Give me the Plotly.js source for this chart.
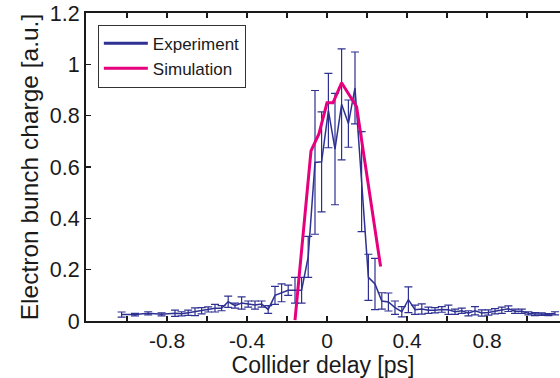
<!DOCTYPE html>
<html>
<head>
<meta charset="utf-8">
<script src="https://cdn.plot.ly/plotly-3.0.1.min.js"></script>
<style>
html,body{margin:0;padding:0;background:#fff;overflow:hidden;}
#chart{width:560px;height:378px;}
</style>
</head>
<body>
<div id="chart"></div>
<script>
// Experiment: collider delay [ps], bunch charge [a.u.], error
const expDelay = [-1.027,-0.96,-0.894,-0.827,-0.76,-0.727,-0.694,-0.66,-0.627,-0.594,-0.56,-0.527,-0.494,-0.46,-0.427,-0.394,-0.36,-0.327,-0.294,-0.26,-0.227,-0.194,-0.16,-0.127,-0.094,-0.06,-0.027,0.007,0.04,0.073,0.107,0.14,0.173,0.207,0.24,0.274,0.307,0.34,0.374,0.407,0.44,0.474,0.507,0.54,0.574,0.607,0.64,0.674,0.707,0.74,0.774,0.807,0.84,0.874,0.907,0.94,0.974,1.007,1.04,1.074,1.107,1.14];
const expCharge = [0.025,0.025,0.03,0.026,0.03,0.028,0.032,0.036,0.04,0.045,0.05,0.05,0.075,0.06,0.07,0.066,0.062,0.066,0.045,0.1,0.11,0.12,0.12,0.12,0.25,0.618,0.62,0.82,0.67,0.844,0.769,0.908,0.543,0.17,0.144,0.078,0.074,0.052,0.036,0.083,0.044,0.047,0.042,0.042,0.045,0.044,0.036,0.04,0.03,0.04,0.031,0.033,0.038,0.042,0.048,0.038,0.038,0.03,0.027,0.027,0.025,0.03];
const expError = [0.01,0.005,0.006,0.006,0.012,0.008,0.01,0.015,0.012,0.01,0.015,0.01,0.022,0.01,0.024,0.012,0.016,0.012,0.015,0.035,0.035,0.02,0.05,0.05,0.08,0.28,0.195,0.145,0.217,0.216,0.092,0.14,0.195,0.09,0.1,0.032,0.035,0.026,0.02,0.05,0.018,0.02,0.012,0.01,0.011,0.018,0.01,0.01,0.01,0.016,0.012,0.01,0.01,0.012,0.011,0.008,0.008,0.006,0.006,0.005,0.004,0.006];

// Simulation
const simDelay = [-0.16,-0.08,-0.04,0.0,0.03,0.073,0.148,0.268];
const simCharge = [0.003,0.663,0.73,0.85,0.85,0.928,0.835,0.212];

// Axis ticks
const xTickVals = [-1.0,-0.8,-0.6,-0.4,-0.2,0,0.2,0.4,0.6,0.8,1.0];
const xTickText = ['','-0.8','','-0.4','','0','','0.4','','0.8',''];
const yTickVals = [0,0.2,0.4,0.6,0.8,1,1.2];
const yTickText = ['0','0.2','0.4','0.6','0.8','1','1.2'];

const FONT = '"Liberation Sans", Arial, Helvetica, sans-serif';
const AX = '#1a1a1a';
const BLUE = '#2e3192';
const MAGENTA = '#e6007e';

const traces = [
  {
    x: expDelay, y: expCharge, name: 'Experiment', type: 'scatter', mode: 'lines',
    showlegend: false,
    line: {color: BLUE, width: 1.5},
    error_y: {type: 'data', array: expError, visible: true, color: BLUE, thickness: 1.2, width: 4}
  },
  {
    x: simDelay, y: simCharge, name: 'Simulation', type: 'scatter', mode: 'lines',
    showlegend: false,
    line: {color: MAGENTA, width: 3}
  },
  // legend entries (thick sample lines as in the reference)
  {x: [null], y: [null], name: 'Experiment', type: 'scatter', mode: 'lines', line: {color: BLUE, width: 3}},
  {x: [null], y: [null], name: 'Simulation', type: 'scatter', mode: 'lines', line: {color: MAGENTA, width: 3}}
];

const layout = {
  width: 560, height: 378,
  margin: {l: 86, r: 0, t: 13, b: 57},
  paper_bgcolor: '#fff', plot_bgcolor: '#fff',
  font: {family: FONT, color: AX, size: 21},
  showlegend: true,
  legend: {
    x: 0.025, y: 0.962, xanchor: 'left', yanchor: 'top',
    bgcolor: '#fff', bordercolor: '#333', borderwidth: 1,
    font: {family: FONT, size: 17, color: AX},
    itemwidth: 44,
    tracegroupgap: 0
  },
  xaxis: {
    range: [-1.205, 1.165],
    tickmode: 'array', tickvals: xTickVals, ticktext: xTickText,
    ticks: 'inside', ticklen: 5, tickwidth: 1.5, tickcolor: AX,
    showline: true, linecolor: AX, linewidth: 2, mirror: 'ticks',
    showgrid: false, zeroline: false,
    tickfont: {family: FONT, size: 21, color: AX},
    title: {text: 'Collider delay [ps]', font: {family: FONT, size: 23, color: AX}, standoff: 3}
  },
  yaxis: {
    range: [0, 1.2],
    tickmode: 'array', tickvals: yTickVals, ticktext: yTickText,
    ticks: 'inside', ticklen: 5, tickwidth: 1.5, tickcolor: AX,
    showline: true, linecolor: AX, linewidth: 2, mirror: false,
    showgrid: false, zeroline: false,
    tickfont: {family: FONT, size: 21.5, color: AX},
    title: {text: 'Electron bunch charge [a.u.]', font: {family: FONT, size: 24.5, color: AX}, standoff: 4}
  }
};

Plotly.newPlot('chart', traces, layout, {staticPlot: true, displayModeBar: false});
</script>
</body>
</html>
